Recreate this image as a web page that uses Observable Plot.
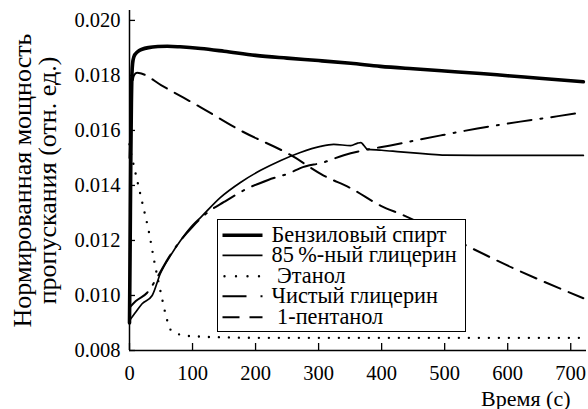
<!DOCTYPE html>
<html>
<head>
<meta charset="utf-8">
<script src="https://cdn.jsdelivr.net/npm/d3@7"></script>
<script src="https://cdn.jsdelivr.net/npm/@observablehq/plot@0.6"></script>
<style>
  body { margin: 0; background: #fff; }
  #wrap { position: relative; width: 588px; height: 409px; font-family: 'Liberation Serif'; }
  #wrap svg text { font-family: 'Liberation Serif'; }
  #legend { position: absolute; left: 217px; top: 219px; width: 249px; height: 113px; box-sizing: border-box;
            border: 1.5px solid #000; background: #fff; padding-top: 4.7px; }
  .row { display: flex; align-items: center; height: 20.6px; }
  .row span { white-space: pre; font-family: 'Liberation Serif'; font-size: 22.3px; line-height: 20.6px; margin-left: 5.5px; color: #000; }
  .row svg { flex: none; }
</style>
</head>
<body>
<div id="wrap"></div>
<script>
// ---- data ----
const xTicks = [0, 100, 200, 300, 400, 500, 600, 700];
const yTicks = [0.008, 0.010, 0.012, 0.014, 0.016, 0.018, 0.020];

const seriesNames = ["Бензиловый спирт", "85\u2009%-ный глицерин", " Этанол", "Чистый глицерин", " 1-пентанол"];

const benzylT = [0, 1, 2, 3, 4, 5, 7, 10, 15, 20, 30, 45, 60, 80, 113, 150, 200, 250, 300, 351, 398, 450, 500, 557, 600, 650, 720];
const benzylV = [0.0090, 0.0118, 0.0148, 0.0170, 0.0181, 0.01845, 0.01868, 0.01880, 0.01890, 0.01895, 0.01901, 0.01905, 0.01906, 0.01904, 0.01898, 0.01888, 0.01873, 0.01863, 0.01854, 0.01844, 0.01833, 0.01824, 0.01816, 0.01807, 0.01799, 0.01790, 0.01777];

const gly85T = [0, 10, 20, 36, 49, 65, 81, 100, 113, 144, 176, 208, 240, 271, 303, 324, 351, 362, 367, 372, 378, 400, 430, 470, 500, 550, 720];
const gly85V = [0.00909, 0.0094, 0.0097, 0.0100, 0.0108, 0.01145, 0.0120, 0.01255, 0.01284, 0.01356, 0.01411, 0.01455, 0.01491, 0.0152, 0.01542, 0.01549, 0.01545, 0.01554, 0.01556, 0.01545, 0.01531, 0.01528, 0.01522, 0.01515, 0.01510, 0.01509, 0.01509];

const ethanolT = [0, 3, 6, 14, 22, 30, 40, 51, 59, 65, 72, 80, 100, 150, 200, 300, 400, 500, 600, 715];
const ethanolV = [0.0155, 0.0151, 0.0148, 0.0140, 0.0132, 0.0124, 0.01116, 0.00996, 0.00916, 0.00876, 0.00864, 0.00858, 0.00852, 0.00848, 0.00846, 0.00846, 0.00846, 0.00846, 0.00846, 0.00846];

const glyPureT = [0, 10, 28, 45, 60, 81, 100, 124, 150, 187, 220, 256, 271, 308, 340, 378, 414, 450, 494, 552, 620, 680, 720];
const glyPureV = [0.00956, 0.0098, 0.0101, 0.0107, 0.0113, 0.0120, 0.0125, 0.01302, 0.0134, 0.01389, 0.01420, 0.01447, 0.01463, 0.01484, 0.01510, 0.01531, 0.01545, 0.01562, 0.01582, 0.01607, 0.01632, 0.01652, 0.01666];

const pentanolT = [0, 2, 4, 7, 12, 20, 50, 113, 176, 256, 308, 351, 398, 435, 500, 610, 720];
const pentanolV = [0.0150, 0.0165, 0.0175, 0.0180, 0.01810, 0.01806, 0.01765, 0.01684, 0.0160, 0.0151, 0.01436, 0.0139, 0.01327, 0.01291, 0.0122, 0.01098, 0.0099];

const xLabel = "Время (с)";
const yLabel1 = "Нормированная мощность";
const yLabel2 = "пропускания (отн. ед.)";

// ---- styles ----
const fontName = "Liberation Serif";
const lineStyles = [
  {strokeWidth: 3.6},
  {strokeWidth: 1.7},
  {strokeWidth: 2.4, strokeDasharray: "0,10", strokeLinecap: "round"},
  {strokeWidth: 2, strokeDasharray: "24,9,2,9"},
  {strokeWidth: 2, strokeDasharray: "17,9"}
];
const legendDash = [null, null, "0,11.5", "24,14,2,40", "17,10"];
const legendDashOffset = [0, 0, -2, 0, 0];

const rows = (t, v) => t.map((d, i) => ({t: d, v: v[i]}));
const seriesData = [
  rows(benzylT, benzylV),
  rows(gly85T, gly85V),
  rows(ethanolT, ethanolV),
  rows(glyPureT, glyPureV),
  rows(pentanolT, pentanolV)
];

const chart = Plot.plot({
  width: 588, height: 409,
  marginLeft: 129, marginRight: 2, marginTop: 10, marginBottom: 59,
  style: {fontFamily: fontName, fontSize: "20.5px", background: "#fff", color: "#000"},
  x: {domain: [0, 725]},
  y: {domain: [0.008, 0.02036]},
  marks: [
    ...seriesData.map((d, i) => Plot.line(d, {x: "t", y: "v", stroke: "#000", curve: "monotone-x", ...lineStyles[i]})),
    Plot.ruleX([0], {strokeWidth: 1.5}),
    Plot.ruleY([0.008], {strokeWidth: 1.5}),
    Plot.axisX(xTicks, {tickSize: 0, tickPadding: 15, label: null, fontSize: 20.5, fontFamily: fontName, fontVariant: "normal"}),
    Plot.axisX(xTicks, {tickSize: 7, dy: -7, tickFormat: () => "", label: null, strokeWidth: 1.3}),
    Plot.axisY(yTicks, {tickSize: 0, tickPadding: 9, tickFormat: d3.format(".3f"), label: null, fontSize: 20.5, fontFamily: fontName, fontVariant: "normal"}),
    Plot.axisY(yTicks, {tickSize: 6, dx: 6, tickFormat: () => "", label: null, strokeWidth: 1.3}),
    Plot.text([xLabel], {frameAnchor: "bottom-right", textAnchor: "end", lineAnchor: "bottom", dx: -16, dy: 55, fontSize: 22, fontFamily: fontName}),
    Plot.text([yLabel1], {frameAnchor: "left", textAnchor: "middle", rotate: -90, dx: -107, fontSize: 26, fontFamily: fontName}),
    Plot.text([yLabel2], {frameAnchor: "left", textAnchor: "middle", rotate: -90, dx: -82, fontSize: 26, fontFamily: fontName})
  ]
});

const wrap = document.getElementById("wrap");
wrap.appendChild(chart);

// ---- legend ----
const legend = document.createElement("div");
legend.id = "legend";
seriesNames.forEach((name, i) => {
  const row = document.createElement("div");
  row.className = "row";
  const ns = "http://www.w3.org/2000/svg";
  const svg = document.createElementNS(ns, "svg");
  svg.setAttribute("width", 48);
  svg.setAttribute("height", 20.6);
  const ln = document.createElementNS(ns, "line");
  ln.setAttribute("x1", 4.5); ln.setAttribute("x2", 44.5);
  ln.setAttribute("y1", 10.3); ln.setAttribute("y2", 10.3);
  ln.setAttribute("stroke", "#000");
  ln.setAttribute("stroke-width", lineStyles[i].strokeWidth);
  if (legendDash[i]) {
    ln.setAttribute("stroke-dasharray", legendDash[i]);
    ln.setAttribute("stroke-dashoffset", legendDashOffset[i]);
  }
  if (lineStyles[i].strokeLinecap) ln.setAttribute("stroke-linecap", lineStyles[i].strokeLinecap);
  svg.appendChild(ln);
  const sp = document.createElement("span");
  sp.textContent = name;
  row.appendChild(svg);
  row.appendChild(sp);
  legend.appendChild(row);
});
wrap.appendChild(legend);
</script>
</body>
</html>
